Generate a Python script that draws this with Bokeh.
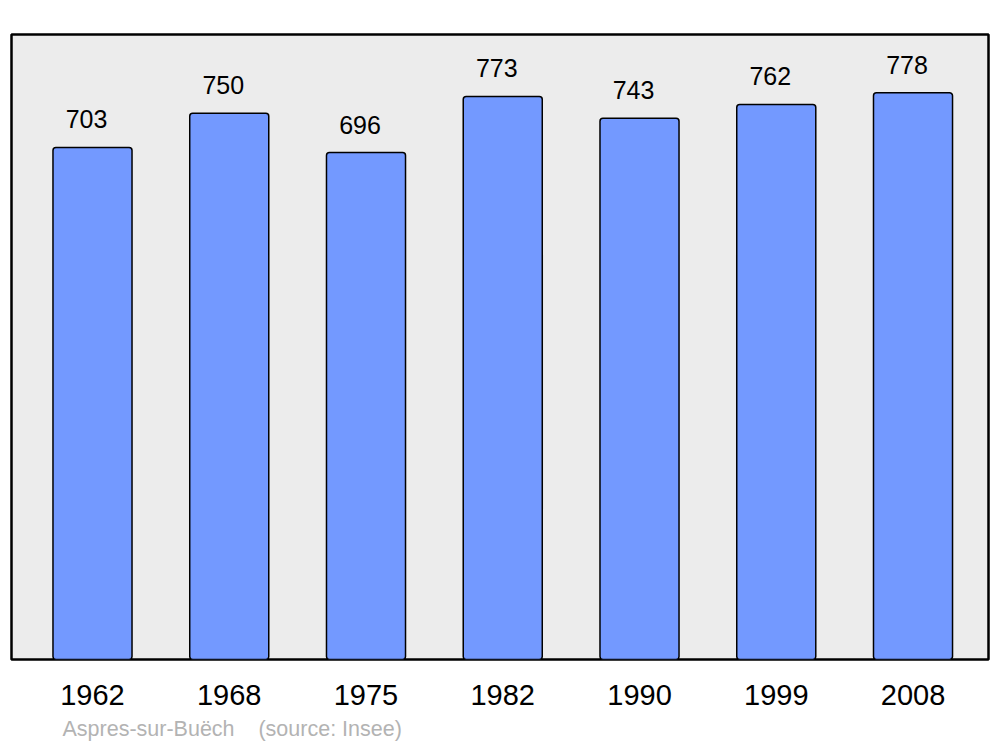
from bokeh.plotting import figure
from bokeh.models import Range1d, FixedTicker, ColumnDataSource, Title
from bokeh.core.properties import value
from bokeh.embed import file_html
from bokeh.resources import INLINE

years = ["1962", "1968", "1975", "1982", "1990", "1999", "2008"]
population = [703, 750, 696, 773, 743, 762, 778]
commune = "Aspres-sur-Buëch"
source = "(source: Insee)"

idx = list(range(len(years)))
src = ColumnDataSource(dict(x=idx, y=population, label=[str(v) for v in population]))

W, H = 1000, 747
p = figure(width=W, height=H, output_backend="svg", toolbar_location=None,
           x_range=Range1d(-0.5923, 6.552), y_range=Range1d(0, 858),
           y_axis_location=None, tools="")
p.min_border_left = 11
p.min_border_right = 12
p.min_border_top = 34
p.min_border_bottom = 88
p.background_fill_color = "#ececec"
p.border_fill_color = "white"
p.outline_line_color = "black"
p.outline_line_width = 2.5
p.xgrid.visible = False
p.ygrid.visible = False

p.vbar(x="x", top="y", bottom=0, width=0.578, source=src,
       fill_color="#7399ff", line_color="black", line_width=1.5, border_radius=3)

p.text(x="x", y="y", text="label", source=src, text_align="center",
       text_baseline="alphabetic", x_offset=-6, y_offset=-28,
       text_font=value("Liberation Sans"), text_font_size="25px", text_color="black")

ax = p.xaxis[0]
ax.ticker = FixedTicker(ticks=idx)
ax.major_label_overrides = {i: y for i, y in zip(idx, years)}
ax.axis_line_color = None
ax.major_tick_line_color = None
ax.minor_tick_line_color = None
ax.major_tick_out = 0
ax.major_label_standoff = 25
ax.major_label_text_font = "Liberation Sans"
ax.major_label_text_font_size = "29px"
ax.major_label_text_color = "black"

footer = Title(text=commune + "\u00a0" * 4 + source, align="left", offset=51,
               standoff=14, text_font="Liberation Sans", text_font_size="21.5px",
               text_font_style="normal", text_color="#b3b3b3")
p.add_layout(footer, "below")

open("out.html", "w").write(file_html(p, INLINE))
